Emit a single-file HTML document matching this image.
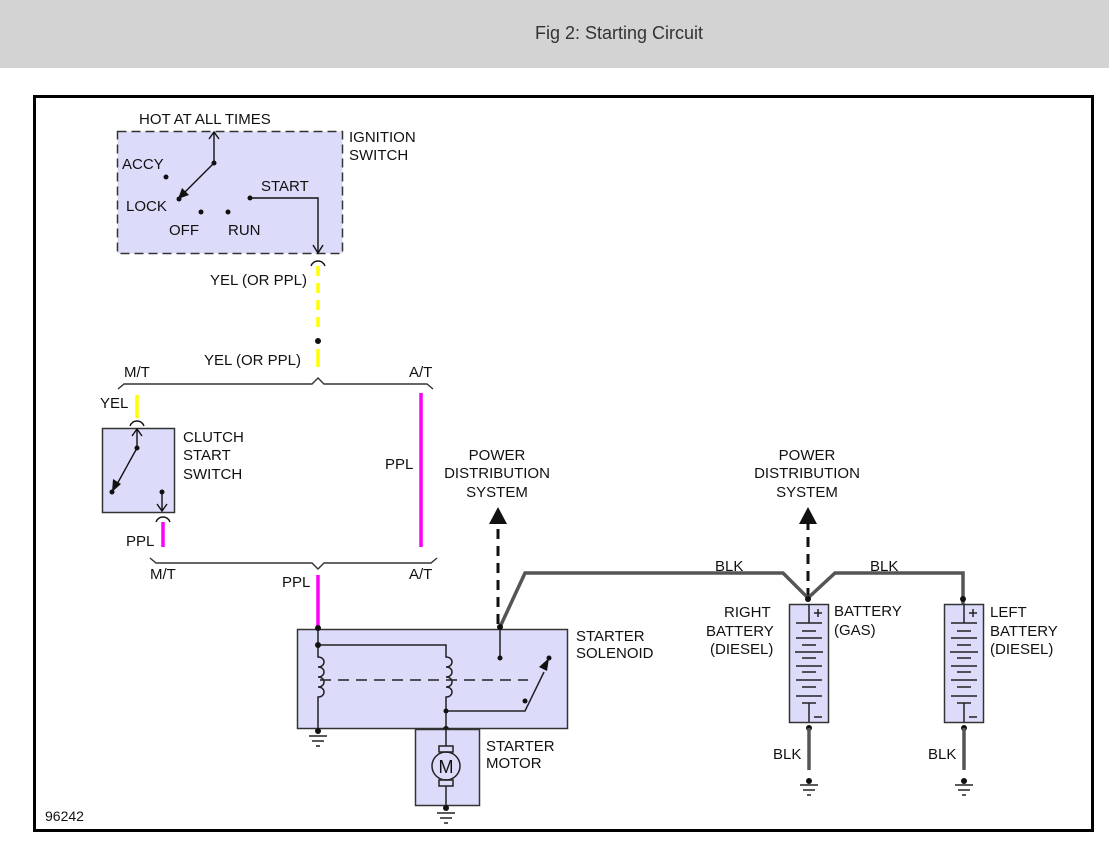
<!DOCTYPE html>
<html><head><meta charset="utf-8"><style>
html,body{margin:0;padding:0;background:#fff;}
svg{display:block;font-family:"Liberation Sans",Arial,sans-serif;}
text{font-size:15px;fill:#111;}
</style></head><body>
<svg width="1109" height="850" viewBox="0 0 1109 850" xmlns="http://www.w3.org/2000/svg">
<rect x="0" y="0" width="1109" height="68" fill="#d3d3d3"/>
<text x="619" y="39" text-anchor="middle" style="font-size:18px;fill:#333">Fig 2: Starting Circuit</text>
<rect x="34.5" y="96.5" width="1058" height="734" fill="#fff" stroke="#000" stroke-width="3"/>

<!-- Ignition switch -->
<rect x="117.5" y="131.5" width="225" height="122" fill="#dcdcfa" stroke="#333" stroke-width="1.5" stroke-dasharray="9,5"/>
<text x="139" y="124">HOT AT ALL TIMES</text>
<text x="349" y="142">IGNITION</text><text x="349" y="160">SWITCH</text>
<text x="122" y="169">ACCY</text><text x="126" y="211">LOCK</text>
<text x="169" y="235">OFF</text><text x="228" y="235">RUN</text><text x="261" y="191">START</text>
<g stroke="#111" stroke-width="1.4" fill="none">
<path d="M214,163 V132"/><path d="M209,139 L214,132 L219,139"/>
<path d="M214,163 L181,196"/>
<path d="M311,266 Q313,261 318,261 Q323,261 325,266"/>
<path d="M250,198 H318 V252"/><path d="M313,245 L318,253 L323,245"/>
</g>
<path d="M178,199 L182,188 L189,195 Z" fill="#111"/>
<g fill="#111"><circle cx="214" cy="163" r="2.5"/><circle cx="179" cy="199" r="2.5"/><circle cx="166" cy="177" r="2.5"/><circle cx="201" cy="212" r="2.5"/><circle cx="228" cy="212" r="2.5"/><circle cx="250" cy="198" r="2.5"/><circle cx="318" cy="341" r="3"/></g>
<path d="M318,266 V330" stroke="#ffff00" stroke-width="3.5" stroke-dasharray="10,7"/>
<text x="210" y="285">YEL (OR PPL)</text>
<path d="M318,349 V367" stroke="#ffff00" stroke-width="3.5"/>
<text x="204" y="365">YEL (OR PPL)</text>
<text x="124" y="377">M/T</text><text x="409" y="377">A/T</text>
<path d="M118,389 L124,384 H312 L318,378 L324,384 H427 L433,389" fill="none" stroke="#333" stroke-width="1.4"/>

<!-- Clutch -->
<text x="100" y="408">YEL</text>
<path d="M137,395 V418" stroke="#ffff00" stroke-width="3.5"/>
<path d="M130,426 Q132,421 137,421 Q142,421 144,426" fill="none" stroke="#111" stroke-width="1.4"/>
<rect x="102.5" y="428.5" width="72" height="84" fill="#dcdcfa" stroke="#333" stroke-width="1.5"/>
<text x="183" y="442">CLUTCH</text><text x="183" y="460">START</text><text x="183" y="479">SWITCH</text>
<g stroke="#111" stroke-width="1.4" fill="none">
<path d="M137,448 V430"/><path d="M132,436 L137,429 L142,436"/>
<path d="M137,448 L116,486"/>
<path d="M162,492 V511"/><path d="M157,504 L162,511 L167,504"/>
<path d="M156,522 Q158,517 163,517 Q168,517 170,522"/>
</g>
<path d="M112,492 L113,479 L121,484 Z" fill="#111"/>
<g fill="#111"><circle cx="137" cy="448" r="2.5"/><circle cx="112" cy="492" r="2.5"/><circle cx="162" cy="492" r="2.5"/></g>
<path d="M163,522 V547" stroke="#ff00ff" stroke-width="3.5"/>
<text x="126" y="546">PPL</text>
<path d="M421,393 V547" stroke="#ff00ff" stroke-width="3.5"/>
<text x="385" y="469">PPL</text>
<path d="M150,558 L156,563 H312 L318,569 L324,563 H431 L437,558" fill="none" stroke="#333" stroke-width="1.4"/>
<text x="150" y="579">M/T</text><text x="409" y="579">A/T</text>
<text x="282" y="587">PPL</text>
<path d="M318,575 V627" stroke="#ff00ff" stroke-width="3.5"/>

<!-- Power distribution arrows -->
<text x="497" y="460" text-anchor="middle">POWER</text><text x="497" y="478" text-anchor="middle">DISTRIBUTION</text><text x="497" y="497" text-anchor="middle">SYSTEM</text>
<text x="807" y="460" text-anchor="middle">POWER</text><text x="807" y="478" text-anchor="middle">DISTRIBUTION</text><text x="807" y="497" text-anchor="middle">SYSTEM</text>
<path d="M498,624 V522" stroke="#111" stroke-width="3" stroke-dasharray="10,7"/>
<path d="M489,524 L498,507 L507,524 Z" fill="#111"/>
<path d="M808,598 V522" stroke="#111" stroke-width="3" stroke-dasharray="10,7"/>
<path d="M799,524 L808,507 L817,524 Z" fill="#111"/>

<!-- BLK wire -->
<path d="M500,627 L525,573 H783 L808,598 L835,573 H963 V604" fill="none" stroke="#555" stroke-width="3.5"/>
<text x="715" y="571">BLK</text><text x="870" y="571">BLK</text>

<!-- Solenoid -->
<rect x="297.5" y="629.5" width="270" height="99" fill="#dcdcfa" stroke="#333" stroke-width="1.5"/>
<text x="576" y="641">STARTER</text><text x="576" y="658">SOLENOID</text>
<g stroke="#222" stroke-width="1.5" fill="none">
<path d="M318,629 V657 c8,0 8,10 0,10 c8,0 8,10 0,10 c8,0 8,10 0,10 c8,0 8,10 0,10 V729"/>
<path d="M318,645 H446 V657 c8,0 8,10 0,10 c8,0 8,10 0,10 c8,0 8,10 0,10 c8,0 8,10 0,10 V729"/>
<path d="M446,711 H525 L544,672"/>
<path d="M500,629 V659"/>
<path d="M320,680 H528" stroke-dasharray="11,7"/>
</g>
<path d="M549,658 L547,671 L539,667 Z" fill="#111"/>
<g fill="#111"><circle cx="318" cy="628" r="3"/><circle cx="318" cy="645" r="3"/><circle cx="446" cy="711" r="2.5"/><circle cx="446" cy="729" r="3"/><circle cx="525" cy="701" r="2.5"/><circle cx="549" cy="658" r="2.5"/><circle cx="500" cy="658" r="2.5"/><circle cx="500" cy="627" r="3"/><circle cx="318" cy="731" r="3"/></g>
<g stroke="#222" stroke-width="1.5"><path d="M309,736 H327 M312,741 H324 M316,746 H320"/></g>

<!-- Motor -->
<rect x="415.5" y="729.5" width="64" height="76" fill="#dcdcfa" stroke="#333" stroke-width="1.5"/>
<text x="486" y="751">STARTER</text><text x="486" y="768">MOTOR</text>
<g stroke="#222" stroke-width="1.5" fill="none">
<path d="M446,729 V746"/><rect x="439" y="746" width="14" height="6"/><circle cx="446" cy="766" r="14"/><rect x="439" y="780" width="14" height="6"/><path d="M446,786 V808"/>
<path d="M437,813 H455 M440,818 H452 M444,823 H448"/>
</g>
<circle cx="446" cy="808" r="3" fill="#111"/>
<text x="446" y="773" text-anchor="middle" style="font-size:18px">M</text>

<!-- Batteries -->
<g id="bat">
<rect x="789.5" y="604.5" width="39" height="118" fill="#dcdcfa" stroke="#333" stroke-width="1.5"/>
<g stroke="#222" stroke-width="1.5">
<path d="M809,604 V623 M796,623 H822 M802,631 H816 M796,638 H822 M802,645 H816 M795,652 H823 M802,658 H816 M796,666 H822 M802,672 H816 M796,680 H822 M802,687 H816 M796,696 H822 M802,703 H816 M809,703 V722"/>
<path d="M814,717 H822"/>
<path d="M814,613 H822 M818,609 V617"/>
</g>
<circle cx="809" cy="728" r="3" fill="#111"/>
<path d="M809,728 V770" stroke="#555" stroke-width="3.5"/>
<circle cx="809" cy="781" r="3" fill="#111"/>
<path d="M800,785 H818 M803,790 H815 M807,795 H811" stroke="#222" stroke-width="1.5"/>
</g>
<use href="#bat" x="155"/>
<circle cx="808" cy="599" r="3" fill="#111"/><circle cx="963" cy="599" r="3" fill="#111"/>
<text x="724" y="617">RIGHT</text><text x="706" y="636">BATTERY</text><text x="710" y="654">(DIESEL)</text>
<text x="834" y="616">BATTERY</text><text x="834" y="635">(GAS)</text>
<text x="990" y="617">LEFT</text><text x="990" y="636">BATTERY</text><text x="990" y="654">(DIESEL)</text>
<text x="773" y="759">BLK</text><text x="928" y="759">BLK</text>
<text x="45" y="821" style="font-size:14px">96242</text>
</svg>
</body></html>
